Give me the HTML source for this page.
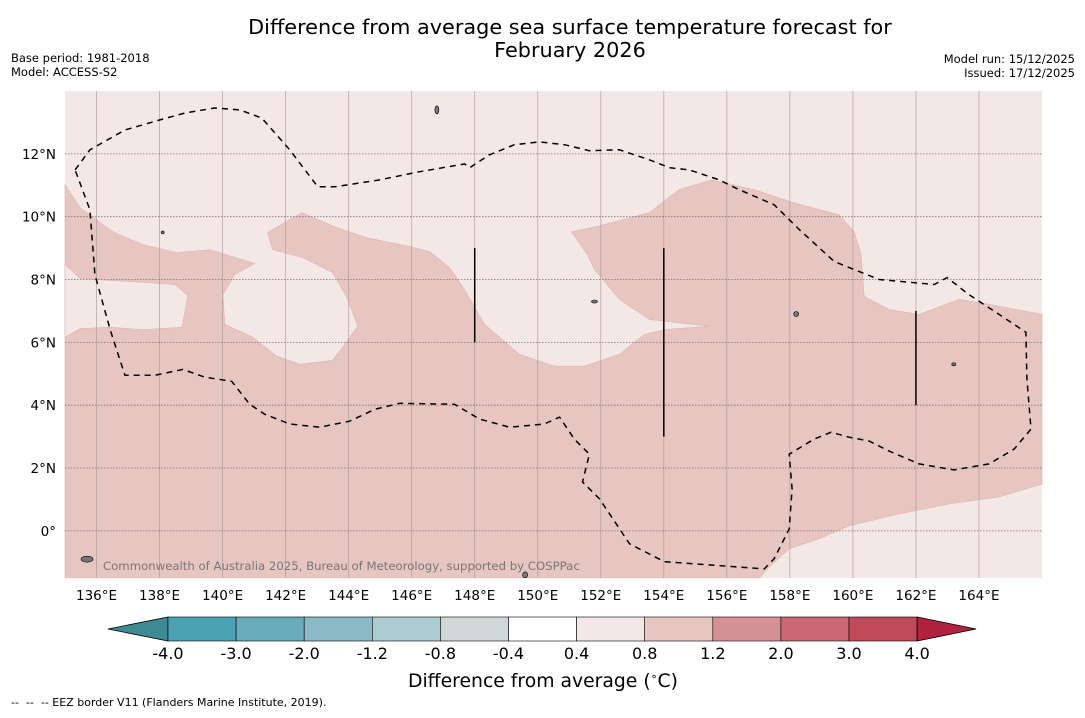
<!DOCTYPE html>
<html><head><meta charset="utf-8"><style>
body{margin:0;background:#fff;font-family:"Liberation Sans","DejaVu Sans",sans-serif;}
svg text{font-family:"DejaVu Sans","Liberation Sans",sans-serif;}
</style></head><body>
<svg id="chart" width="1085" height="713" xmlns="http://www.w3.org/2000/svg">
<rect width="1085" height="713" fill="#fff"/>
<text x="570" y="34" font-size="20.8" text-anchor="middle">Difference from average sea surface temperature forecast for</text>
<text x="570" y="57" font-size="20.8" text-anchor="middle">February 2026</text>
<text x="11" y="62" font-size="11.5">Base period: 1981-2018</text>
<text x="11" y="76" font-size="11.5">Model: ACCESS-S2</text>
<text x="1075" y="63" font-size="11.5" text-anchor="end">Model run: 15/12/2025</text>
<text x="1075" y="77" font-size="11.5" text-anchor="end">Issued: 17/12/2025</text>
<g id="map"></g>
<g id="cbar"></g>
<text x="543" y="687" font-size="18.8" text-anchor="middle">Difference from average (<tspan font-size="11" dy="-7">∘</tspan><tspan dy="7">C)</tspan></text>
<text x="11" y="706" font-size="11" style="white-space:pre">--  --  -- EEZ border V11 (Flanders Marine Institute, 2019).</text>
</svg>
<script>
const lonTicks=[136,138,140,142,144,146,148,150,152,154,156,158,160,162,164];
const latTicks=[0,2,4,6,8,10,12];
const darkRegion=[[135,11.02],[135.48,10.29],[136.52,9.52],[137.47,9.11],[138.55,8.86],[139.6,8.95],[141.02,8.51],[140.39,8.16],[140.01,7.52],[140.07,6.57],[140.96,6.16],[141.72,5.56],[142.45,5.3],[143.49,5.43],[143.94,6.03],[144.29,6.51],[143.94,7.43],[143.49,8.22],[142.54,8.7],[141.59,8.95],[141.43,9.49],[142.51,10.13],[143.62,9.65],[144.57,9.33],[145.94,9.05],[146.57,8.89],[147.2,8.38],[147.68,7.68],[148.31,6.57],[149.42,5.62],[150.53,5.24],[151.48,5.24],[152.59,5.62],[153.38,6.25],[154.02,6.41],[155.44,6.51],[153.54,6.73],[152.59,7.37],[151.8,8.32],[151.58,8.79],[151.07,9.52],[151.96,9.71],[153.54,10.13],[154.49,10.86],[155.51,11.17],[156.87,10.86],[158.14,10.44],[159.56,10.06],[160.04,9.52],[160.26,8.79],[160.36,7.46],[161.15,7.05],[162.1,6.89],[163.37,7.37],[164.32,7.21],[166,6.89],[166,1.49],[164.64,1.08],[163.05,0.86],[161.47,0.54],[159.88,0.16],[158.93,-0.25],[157.98,-0.57],[157.35,-1.14],[157.03,-1.5],[135,-1.5]];
const lightPatch=[[135,8.48],[135.48,8.03],[136.97,7.94],[138.49,7.84],[138.9,7.49],[138.71,6.48],[137.47,6.41],[136.43,6.48],[135.48,6.44],[135,6.16]];
const eezBorder=[[135.32,11.49],[135.79,12.13],[136.9,12.76],[138.01,13.08],[138.8,13.3],[139.75,13.46],[140.55,13.4],[141.24,13.14],[142.13,12.13],[143.02,10.95],[143.56,10.95],[144.98,11.17],[146.25,11.43],[147.68,11.68],[147.84,11.56],[148.47,11.97],[149.26,12.29],[150.06,12.38],[150.85,12.29],[151.64,12.1],[152.59,12.13],[153.54,11.81],[154.18,11.56],[154.81,11.49],[155.76,11.17],[156.39,10.86],[157.5,10.38],[158.3,9.59],[159.41,8.57],[160.83,8.0],[162.58,7.84],[162.99,8.06],[163.68,7.52],[164.64,6.89],[165.49,6.32],[165.52,4.83],[165.65,3.24],[165.11,2.6],[164.32,2.13],[163.21,1.94],[162.1,2.13],[161.15,2.54],[160.51,2.86],[159.88,2.98],[159.31,3.14],[158.77,2.92],[157.98,2.44],[158.07,1.33],[157.98,0.06],[157.5,-0.89],[157.19,-1.21],[156.24,-1.14],[154.02,-0.98],[152.91,-0.41],[151.96,1.02],[151.42,1.56],[151.64,2.44],[151.16,2.92],[150.69,3.62],[150.21,3.4],[149.1,3.3],[148.15,3.56],[147.36,4.03],[145.62,4.06],[144.83,3.87],[144.03,3.49],[143.08,3.3],[142.13,3.4],[141.34,3.71],[140.86,4.03],[140.29,4.76],[139.44,4.89],[138.74,5.14],[137.85,4.95],[136.9,4.95],[136.43,6.41],[135.95,8.16],[135.79,10.22]];
const boundaryLines=[[148,9,6],[154,9,3],[162,7,4]];
const cbarLevels=["-4.0","-3.0","-2.0","-1.2","-0.8","-0.4","0.4","0.8","1.2","2.0","3.0","4.0"];
const cbarColors=["#4aa2b3","#69acbb","#8bbac6","#abcbd0","#cfd7d8","#ffffff","#f4e8e6","#e7c6c1","#d69197","#cb6873","#bf4a5a"];
const NS="http://www.w3.org/2000/svg";
const X0=65,X1=1042,Y0=91,Y1=578,LON0=135,LON1=166,LAT0=-1.5,LAT1=14;
const xs=l=>X0+(l-LON0)/(LON1-LON0)*(X1-X0);
const ys=l=>Y0+(LAT1-l)/(LAT1-LAT0)*(Y1-Y0);
function mk(tag,attrs,parent){const e=document.createElementNS(NS,tag);for(const k in attrs)e.setAttribute(k,attrs[k]);parent.appendChild(e);return e;}
const map=document.getElementById('map');
const bg=mk('rect',{x:X0,y:Y0,width:X1-X0,height:Y1-Y0,fill:'#f4e8e6'},map);


const pts=a=>a.map(p=>xs(p[0]).toFixed(1)+','+ys(p[1]).toFixed(1)).join(' ');
const d1=mk('polygon',{points:pts(darkRegion),fill:'#e7c6c1',stroke:'#dcb5b0','stroke-width':0.6},map);


const d2=mk('polygon',{points:pts(lightPatch),fill:'#f4e8e6',stroke:'#dcb5b0','stroke-width':0.6},map);


lonTicks.forEach(l=>{const g=mk('line',{x1:xs(l),x2:xs(l),y1:Y0,y2:Y1,stroke:'#a09090','stroke-width':0.8,'stroke-opacity':0.7},map);


const t=mk('text',{x:xs(l),y:600,'font-size':13.5,'text-anchor':'middle'},map);t.textContent=l+'°E';

});
latTicks.forEach(l=>{const g=mk('line',{x1:X0,x2:X1,y1:ys(l),y2:ys(l),stroke:'#807070','stroke-width':0.8,'stroke-dasharray':'1.5,1.5'},map);


const t=mk('text',{x:56,y:ys(l)+5,'font-size':13.5,'text-anchor':'end'},map);t.textContent=l===0?'0°':l+'°N';

});
const ez=mk('polygon',{points:pts(eezBorder),fill:'none',stroke:'#000','stroke-width':1.5,'stroke-dasharray':'6,5'},map);


boundaryLines.forEach(b=>{const l=mk('line',{x1:xs(b[0]),x2:xs(b[0]),y1:ys(b[1]),y2:ys(b[2]),stroke:'#000','stroke-width':1.5},map);

});
const isl=[[146.8,13.4,2,4],[138.1,9.5,1.5,1.5],[151.8,7.3,3,1.5],[158.2,6.9,2.5,2.5],[163.2,5.3,2,1.5],[135.7,-0.9,6,3],[149.6,-1.4,2.5,3]];
isl.forEach(p=>{const e=mk('ellipse',{cx:xs(p[0]),cy:ys(p[1]),rx:p[2],ry:p[3],fill:'#777',stroke:'#000','stroke-width':0.6},map);

});
const cr=mk('text',{x:103,y:570,'font-size':11.7,fill:'#777'},map);cr.textContent='Commonwealth of Australia 2025, Bureau of Meteorology, supported by COSPPac';


const cb=document.getElementById('cbar');
const CX0=168,CW=68.1,CY=617,CH=24;
const la=mk('polygon',{points:`${CX0},${CY} ${CX0},${CY+CH} 108,${CY+CH/2}`,fill:'#3e8a93',stroke:'#000','stroke-width':0.8},cb);


cbarColors.forEach((c,i)=>{const r=mk('rect',{x:CX0+i*CW,y:CY,width:CW,height:CH,fill:c,stroke:'#000','stroke-width':0.6},cb);

});
const xe=CX0+cbarColors.length*CW;
const ra=mk('polygon',{points:`${xe},${CY} ${xe},${CY+CH} ${xe+59},${CY+CH/2}`,fill:'#b0223e',stroke:'#000','stroke-width':0.8},cb);


cbarLevels.forEach((v,i)=>{const t=mk('text',{x:CX0+i*CW,y:659,'font-size':16,'text-anchor':'middle'},cb);t.textContent=v;

});
</script>
</body></html>
